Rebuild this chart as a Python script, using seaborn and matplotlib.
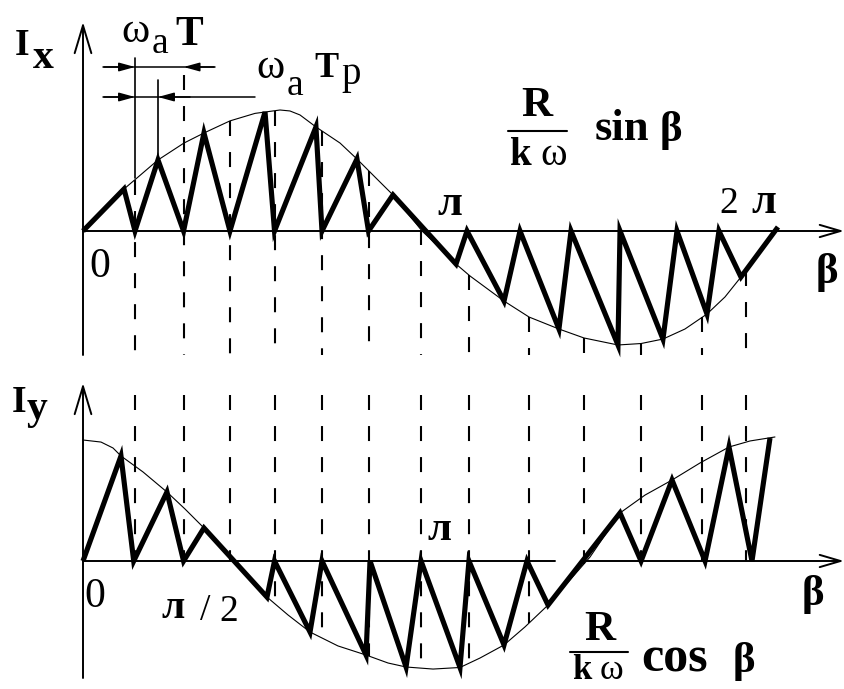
import numpy as np
import matplotlib
matplotlib.use("Agg")
import matplotlib.pyplot as plt
import seaborn as sns

sns.set_theme(style="white")
plt.rcParams["font.family"] = ["Liberation Serif", "DejaVu Serif"]

# ---- I_x : sampled current (β in radians, current in units of R/kω)
beta_x = [0, 0.380, 0.482, 0.695, 0.932, 1.121, 1.362, 1.687, 1.775, 2.159, 2.215,
          2.539, 2.646, 2.873, 3.457, 3.559, 3.902, 4.050, 4.411, 4.523, 4.958,
          4.977, 5.375, 5.505, 5.783, 5.894, 6.098, 6.441]
i_x = [0, 0.347, 0, 0.587, 0, 0.810, 0, 0.983, 0, 0.860, 0,
       0.595, 0, 0.298, -0.273, 0, -0.579, 0, -0.810, 0, -0.942,
       0, -0.893, 0, -0.686, 0, -0.380, 0.033]
# envelope R/kω · sin β
env_beta_x = [0, 0.158, 0.380, 0.500, 0.695, 0.936, 1.121, 1.362, 1.594, 1.826,
              1.918, 2.011, 2.159, 2.382, 2.539, 2.706, 2.873, 3.142, 3.309, 3.457,
              3.587, 3.902, 4.134, 4.411, 4.643, 4.958, 5.172, 5.375, 5.579, 5.783,
              5.950, 6.098, 6.160]
env_x = [0, 0.140, 0.347, 0.438, 0.587, 0.727, 0.810, 0.910, 0.972, 1.000,
         0.992, 0.959, 0.860, 0.727, 0.595, 0.446, 0.298, 0, -0.140, -0.273,
         -0.372, -0.579, -0.711, -0.810, -0.884, -0.942, -0.930, -0.893, -0.810, -0.686,
         -0.545, -0.380, -0.320]

# ---- I_y : sampled current
beta_y = [0, 0.352, 0.470, 0.778, 0.932, 1.121, 1.705, 1.775, 2.104, 2.215, 2.623,
          2.660, 2.994, 3.133, 3.494, 3.577, 3.902, 4.115, 4.310, 4.977, 5.172,
          5.459, 5.765, 5.987, 6.200, 6.367]
i_y = [0, 0.868, 0, 0.570, 0, 0.273, -0.298, 0, -0.587, 0, -0.777,
       0, -0.876, 0, -0.880, 0, -0.694, 0, -0.364, 0.397, 0,
       0.669, 0, 0.942, 0, 1.017]
# envelope R/kω · cos β
env_beta_y = [0, 0.167, 0.278, 0.352, 0.556, 0.778, 0.945, 1.121, 1.381, 1.529,
              1.705, 1.900, 2.104, 2.363, 2.623, 2.827, 2.994, 3.244, 3.494, 3.679,
              3.902, 4.096, 4.310, 4.513, 4.699, 4.977, 5.209, 5.459, 5.718, 5.987,
              6.182, 6.413]
env_y = [1.000, 0.983, 0.934, 0.868, 0.736, 0.570, 0.430, 0.273, 0.025, -0.116,
         -0.298, -0.446, -0.587, -0.702, -0.777, -0.843, -0.876, -0.893, -0.880, -0.802,
         -0.694, -0.545, -0.364, -0.157, 0.033, 0.397, 0.545, 0.669, 0.810, 0.942,
         0.992, 1.025]

# sampling instants (dashed verticals through both graphs)
beta_s = [0.482, 0.932, 1.362, 1.775, 2.215, 2.646, 3.133, 3.577, 4.134, 4.643,
          5.172, 5.737, 6.145]

W, H = 845, 689
fig = plt.figure(figsize=(W / 100, H / 100), dpi=100)
ax = fig.add_axes([0, 0, 1, 1])
ax.set_axis_off()

# frame: β = 0 at 83 px, 107.9 px per radian, 121 px per unit of current
X0, SX = 83, 107.9
Y0, SY = 231, 121      # I_x baseline
YB = 561               # I_y baseline
ax.set_xlim(-X0 / SX, (W - X0) / SX)
ax.set_ylim((Y0 - H) / SY, Y0 / SY)
off = (Y0 - YB) / SY


def bx(p):
    return (p - X0) / SX


def by(p):
    return (Y0 - p) / SY


K = "black"
THICK, THIN, AXW, DASHW = 3.7, 0.8, 1.4, 1.5
dash = (0, (7.2, 7.7))

# sampling lines
env_top = np.interp(beta_s, env_beta_x, env_x)
env_bot = np.interp(beta_s, env_beta_y, env_y)
for k, b in enumerate(beta_s):
    top = by(75) if k == 1 else env_top[k]
    ax.plot([b, b], [top, by(355)], color=K, lw=DASHW, ls=dash, zorder=1)
    ax.plot([b, b], [off + (YB - 395) / SY, off + min(0.0, env_bot[k])],
            color=K, lw=DASHW, ls=dash, zorder=1)

# envelopes
sns.lineplot(x=env_beta_x, y=env_x, sort=False, estimator=None, color=K, lw=THIN, ax=ax, zorder=2)
sns.lineplot(x=env_beta_y, y=np.array(env_y) + off, sort=False, estimator=None,
             color=K, lw=THIN, ax=ax, zorder=2)

# sampled currents
sns.lineplot(x=beta_x, y=i_x, sort=False, estimator=None, color=K, lw=THICK, ax=ax,
             zorder=4, solid_joinstyle="miter", solid_capstyle="butt")
sns.lineplot(x=beta_y, y=np.array(i_y) + off, sort=False, estimator=None, color=K,
             lw=THICK, ax=ax, zorder=4, solid_joinstyle="miter", solid_capstyle="butt")


def arrow(x0, y0, x1, y1, style, ms, lw=AXW):
    ax.annotate("", xy=(x1, y1), xytext=(x0, y0),
                arrowprops=dict(arrowstyle=style, lw=lw, color=K, shrinkA=0, shrinkB=0,
                                mutation_scale=ms), zorder=3)


# axes of I_x
arrow(0, by(355), 0, by(22), "->,head_length=1.0,head_width=0.3", 20)
arrow(0, 0, bx(844), 0, "->,head_length=0.75,head_width=0.22", 20)
# axes of I_y
arrow(0, off + (YB - 678) / SY, 0, off + (YB - 383) / SY, "->,head_length=1.0,head_width=0.3", 20)
ax.plot([0, bx(555)], [off, off], color=K, lw=AXW, zorder=3)
arrow(bx(582), off, bx(844), off, "->,head_length=0.75,head_width=0.22", 20)

# dimension marks ω_a T and ω_a T_p
ax.plot([beta_s[0], beta_s[0]], [env_x[3], by(58)], color=K, lw=1.2, zorder=3)
ax.plot([beta_x[3], beta_x[3]], [i_x[3], by(80)], color=K, lw=1.2, zorder=3)
ax.plot([bx(103), bx(215)], [by(67), by(67)], color=K, lw=1.1, zorder=3)
ax.plot([bx(103), bx(255)], [by(97), by(97)], color=K, lw=1.1, zorder=3)
dstyle = "-|>,head_length=0.8,head_width=0.22"
arrow(bx(104), by(67), beta_s[0], by(67), dstyle, 12, 1.1)
arrow(bx(214), by(67), beta_s[1], by(67), dstyle, 12, 1.1)
arrow(bx(104), by(97), beta_s[0], by(97), dstyle, 12, 1.1)
arrow(bx(190), by(97), beta_x[3], by(97), dstyle, 12, 1.1)


def put(x, y, s, size, weight="normal", ha="left"):
    fig.text(x / W, 1 - y / H, s, fontsize=size, fontweight=weight, ha=ha,
             va="baseline", color=K, family=["Liberation Serif", "DejaVu Serif"])


# labels of I_x
put(15, 55, "I", 27, "bold")
put(33, 68, "x", 30, "bold")
put(121, 42, "ω", 31)
put(152, 53, "a", 27)
put(175, 45, "T", 30, "bold")
put(256, 78, "ω", 31)
put(287, 95, "a", 27)
put(314, 77, "T", 26, "bold")
put(341, 84, "p", 28)
put(537, 116, "R", 31, "bold", ha="center")
ax.plot([bx(508), bx(567)], [by(131), by(131)], color=K, lw=1.5)
put(510, 165, "k", 28, "bold")
put(540, 165, "ω", 29)
put(595, 140, "sin", 32, "bold")
put(660, 141, "β", 31, "bold")
put(437, 215, "л", 32, "bold")
put(719, 213, "2", 27)
put(751, 213, "л", 32, "bold")
put(89, 277, "0", 30)
put(816, 283, "β", 31, "bold")

# labels of I_y
put(12, 412, "I", 27, "bold")
put(27, 419, "y", 30, "bold")
put(84, 607, "0", 30)
put(161, 618, "л", 30, "bold")
put(200, 620, "/", 27)
put(219, 621, "2", 27)
put(427, 540, "л", 31, "bold")
put(802, 605, "β", 31, "bold")
put(600, 640, "R", 31, "bold", ha="center")
ax.plot([bx(570), bx(628)], [off + (YB - 652) / SY] * 2, color=K, lw=1.5)
put(572, 679, "k", 25, "bold")
put(600, 679, "ω", 26)
put(641, 672, "cos", 36, "bold")
put(733, 672, "β", 31, "bold")

fig.savefig("out.png", dpi=100, facecolor="white")
